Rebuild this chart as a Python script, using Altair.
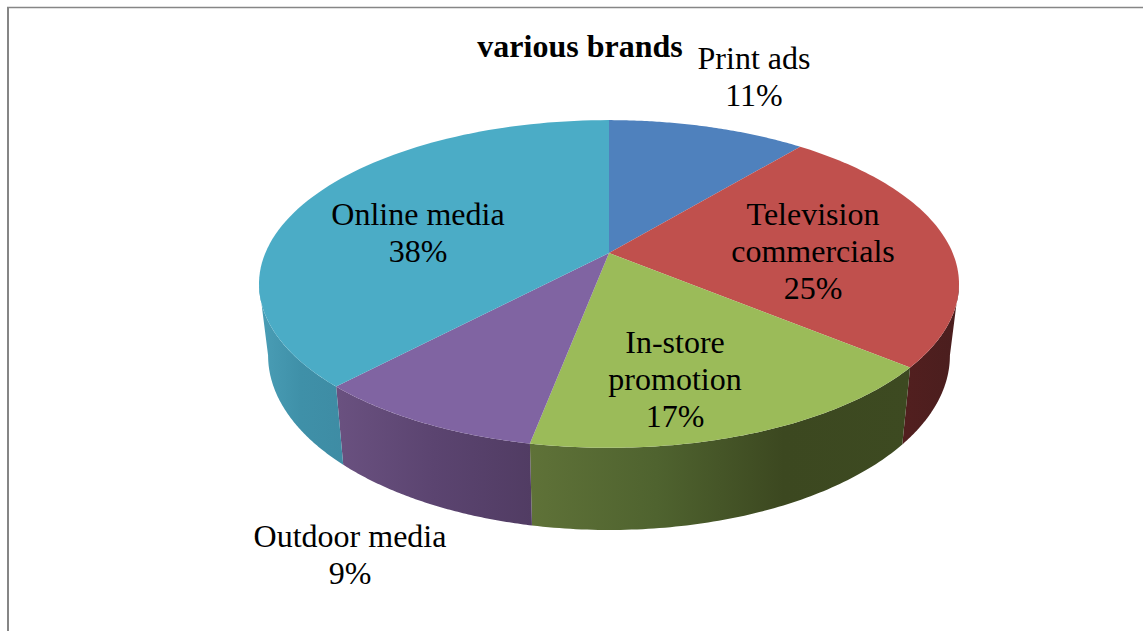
import numpy as np
import pandas as pd
import altair as alt

# Slice names, shares (percent) and colours, clockwise from twelve o'clock
categories = ["Print ads", "Television commercials", "In-store promotion", "Outdoor media", "Online media"]
shares = [11, 25, 17, 9, 38]
top_colors = ["#4f81bd", "#c0504d", "#9bbb59", "#8064a2", "#4bacc6"]

# Side-wall shading, left to right: (slice index, gradient stops)
wall_styles = [
    (1, ["#521f1f", "#4a1e1e"]),
    (2, ["#5f7238", "#4f632f", "#3c4820", "#3d4a21"]),
    (3, ["#6a5180", "#5b4470", "#513c63"]),
    (4, ["#4a9eb6", "#3f90a8", "#3e8ca4"]),
]

# Text labels: lines, centre x and y of the block
labels = [
    ("Print ads\n11%", 754, 59),
    ("Television\ncommercials\n25%", 813, 215),
    ("In-store\npromotion\n17%", 675, 343),
    ("Outdoor media\n9%", 350, 537),
    ("Online media\n38%", 418, 215),
]
chart_title = "various brands"

W, H = 1143, 631
CX, CY = 609, 253          # where the slices meet
RX, RY = 343.7, 158        # disc size on screen
TILT = 0.189               # perspective strength of the tilted disc
WALL_X, WALL_Y, WALL_DROP = 0.974, 1.065, 69.5 / RY  # lower rim relative to upper rim

x_scale = alt.Scale(domain=[-CX / RX, (W - CX) / RX], range=[0, W])
y_scale = alt.Scale(domain=[CY / RY, (CY - H) / RY], range=[0, H])


def rim(deg):
    t = np.radians(deg)
    d = 1 + TILT * np.cos(t)
    return np.sin(t) / d, np.cos(t) / d


edges = np.concatenate([[0], np.cumsum(shares)]) * 3.6
extreme = np.degrees(np.arccos(-TILT))  # angle of the disc's right-most point


def top_frame(i):
    a = np.linspace(edges[i], edges[i + 1], 80)
    u, v = rim(a)
    u = np.concatenate([[0], u])
    v = np.concatenate([[0], v])
    return pd.DataFrame({"u": u, "v": v, "o": range(len(u))})


def wall_frame(i):
    start, stop = edges[i], edges[i + 1]
    start = max(start, extreme)
    stop = min(stop, 360 - extreme)
    a = np.linspace(start, stop, 80)
    u, v = rim(a)
    lu, lv = u * WALL_X, v * WALL_Y - WALL_DROP
    uu = np.concatenate([u, lu[::-1]])
    vv = np.concatenate([v, lv[::-1]])
    return pd.DataFrame({"u": uu, "v": vv, "o": range(len(uu))})


def polygon(frame, fill):
    return (
        alt.Chart(frame)
        .mark_line(fill=fill, stroke=None, strokeWidth=0, interpolate="linear", clip=False)
        .encode(
            x=alt.X("u:Q", scale=x_scale, axis=None),
            y=alt.Y("v:Q", scale=y_scale, axis=None),
            order="o:Q",
        )
    )


layers = []
for i, colors in wall_styles:
    n = len(colors)
    stops = [alt.GradientStop(color=c, offset=k / (n - 1)) for k, c in enumerate(colors)]
    grad = alt.LinearGradient(gradient="linear", stops=stops, x1=0, x2=1, y1=0, y2=0)
    layers.append(polygon(wall_frame(i), grad))
for i, c in enumerate(top_colors):
    layers.append(polygon(top_frame(i), c))

text_df = pd.DataFrame({"t": [0]})
for text, x, y in labels:
    layers.append(
        alt.Chart(text_df)
        .mark_text(
            text=text,
            lineBreak="\n",
            lineHeight=37,
            font="Liberation Serif",
            fontSize=32,
            color="#000000",
            align="center",
            baseline="middle",
        )
        .encode(x=alt.value(x), y=alt.value(y))
    )
layers.append(
    alt.Chart(text_df)
    .mark_text(
        text=chart_title,
        font="Liberation Serif",
        fontSize=32,
        fontWeight="bold",
        color="#000000",
        align="center",
        baseline="middle",
    )
    .encode(x=alt.value(580), y=alt.value(47))
)

# Outer frame: top and left edges
frame_color = "#868686"
layers.append(
    alt.Chart(text_df)
    .mark_rule(color=frame_color, strokeWidth=1.5)
    .encode(x=alt.value(7), x2=alt.value(W), y=alt.value(7.5))
)
layers.append(
    alt.Chart(text_df)
    .mark_rule(color=frame_color, strokeWidth=2)
    .encode(x=alt.value(8), y=alt.value(7), y2=alt.value(H))
)

chart = (
    alt.layer(*layers)
    .properties(width=W, height=H, padding=0, autosize=alt.AutoSizeParams(type="none"), background="white")
    .configure_view(stroke=None)
)
chart.save("out.html", embed_options={"renderer": "svg", "actions": False})
